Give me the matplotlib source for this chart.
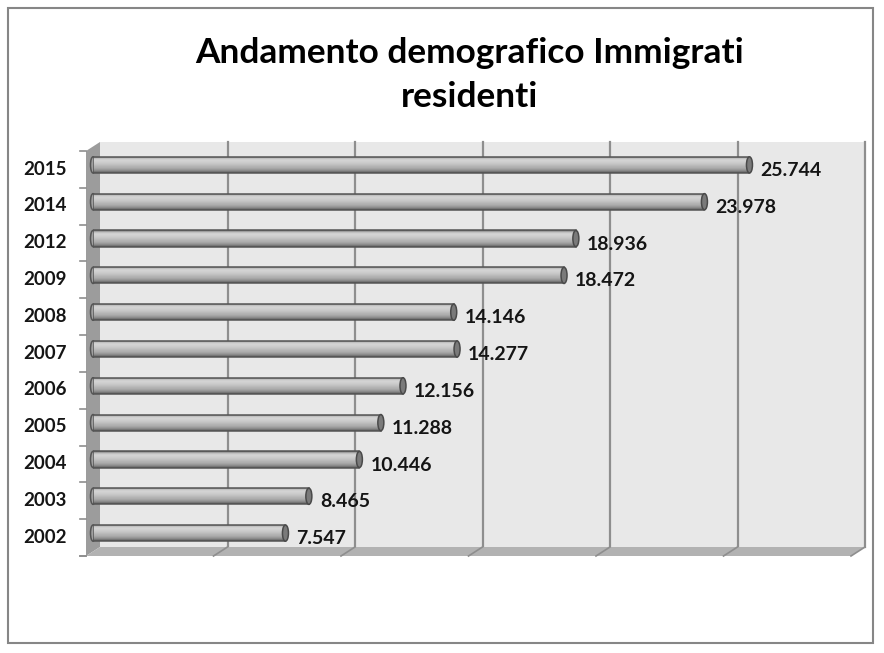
import numpy as np
from matplotlib import pyplot as plt
from matplotlib.patches import Polygon, Rectangle, Ellipse

# data (bottom to top, as drawn)
anni = ['2002', '2003', '2004', '2005', '2006', '2007', '2008', '2009', '2012', '2014', '2015']
immigrati = [7547, 8465, 10446, 11288, 12156, 14277, 14146, 18472, 18936, 23978, 25744]
griglia = [0, 5000, 10000, 15000, 20000, 25000, 30000]

font = 'Lato'
W, H = 884, 653
fig = plt.figure(figsize=(W / 100, H / 100), dpi=100)

# axes = middle depth plane of the 3d box (pixel layout)
left, right, top, bottom = 93, 858, 146.5, 551.5
ax = fig.add_axes([left / W, 1 - bottom / H, (right - left) / W, (bottom - top) / H])
xmax = 30000
n = len(anni)
ax.axis('off')

# pixel -> data factors
sx = xmax / (right - left)
sy = n / (bottom - top)
dx, dy = 7 * sx, 4.5 * sy   # half depth of the box
y0, y1 = -0.5, n - 0.5

# back wall
ax.add_patch(Rectangle((dx, y0 + dy), xmax, y1 - y0, facecolor='#e8e8e8',
                       edgecolor='none', zorder=0, clip_on=False))
# left wall
ax.add_patch(Polygon([(dx, y0 + dy), (dx, y1 + dy), (-dx, y1 - dy), (-dx, y0 - dy)],
                     closed=True, facecolor='#9c9c9c', edgecolor='none', zorder=1, clip_on=False))
# floor
ax.add_patch(Polygon([(dx, y0 + dy), (xmax + dx, y0 + dy), (xmax - dx, y0 - dy), (-dx, y0 - dy)],
                     closed=True, facecolor='#b2b2b2', edgecolor='none', zorder=1, clip_on=False))

# gridlines on back wall + stubs on floor
for g in griglia[1:]:
    ax.plot([g + dx, g + dx], [y0 + dy, y1 + dy], color='#8e8e8e', lw=1.6, zorder=0.5, clip_on=False)
    ax.plot([g + dx, g - dx], [y0 + dy, y0 - dy], color='#8e8e8e', lw=1.2, zorder=1.5, clip_on=False)
ax.plot([-dx, -dx - 6 * sx], [y0 - dy, y0 - dy], color='#8e8e8e', lw=1.2, zorder=1.5, clip_on=False)

# y tick marks at category boundaries on front left edge
for b in np.arange(n + 1) - 0.5:
    ax.plot([-dx - 6 * sx, -dx], [b - dy, b - dy], color='#8e8e8e', lw=1.2, clip_on=False)

# cylinder bars
h = 0.44
grad = np.array([0.36, 0.5, 0.58, 0.64, 0.68, 0.71, 0.74, 0.77, 0.8, 0.82, 0.83, 0.8, 0.7, 0.42])
grad = grad.reshape(-1, 1)
pos = np.arange(n)
bars = ax.barh(pos, immigrati, height=h, color='none', edgecolor='#555555', lw=1.1, zorder=4)
for p, v, b in zip(pos, immigrati, bars):
    ax.add_patch(Ellipse((0, p), 5 * sx, h, facecolor='#a0a0a0', edgecolor='#555555',
                         lw=1.1, zorder=2.5, clip_on=False))
    im = ax.imshow(grad, extent=[0, v, p - h / 2, p + h / 2], origin='lower', aspect='auto',
                   cmap='gray', vmin=0, vmax=1, zorder=3, interpolation='bilinear')
    im.set_clip_path(b)
    ax.add_patch(Ellipse((v, p), 6 * sx, h, facecolor='#7a7a7a', edgecolor='#4a4a4a',
                         lw=1.1, zorder=5))
    ax.annotate(f'{v:,}'.replace(',', '.'), xy=(v, p), xytext=(8, -4), textcoords='offset points',
                ha='left', va='center', fontsize=14, fontweight='bold', family=font,
                color='#151515', zorder=6)

ax.set_xlim(0, xmax)
ax.set_ylim(-0.5, n - 0.5)

# category labels
for p, a in zip(pos, anni):
    ax.annotate(a, xy=(0, p), xytext=(-19, -3), textcoords='offset points', ha='right',
                va='center', fontsize=13.5, fontweight='bold', family=font, color='#151515')

# title
fig.text(470 / W, 1 - 63 / H, 'Andamento demografico Immigrati', ha='center', va='baseline',
         fontsize=25.4, fontweight='bold', family=font)
fig.text(470 / W, 1 - 107 / H, 'residenti', ha='center', va='baseline',
         fontsize=25.4, fontweight='bold', family=font)

# chart area border
fig.add_artist(Rectangle((8 / W, 1 - 643 / H), 865 / W, 635 / H, transform=fig.transFigure,
                         facecolor='none', edgecolor='#868686', lw=1.5))

fig.savefig('out.png', dpi=100, facecolor='white')
